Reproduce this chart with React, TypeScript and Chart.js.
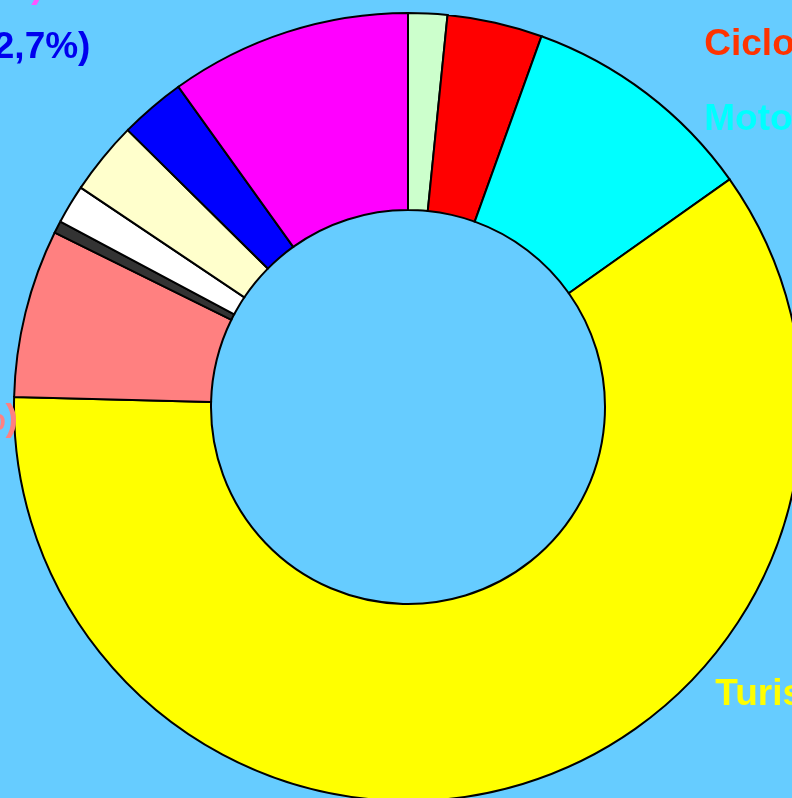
import React, { useEffect, useRef } from "react";
import { Chart, registerables } from "chart.js";

Chart.register(...registerables);

const categories = [
  "Otros",
  "Ciclomotores",
  "Motocicletas",
  "Turismos",
  "Furgonetas",
  "Tractores industriales",
  "Remolques",
  "Semirremolques",
  "Autobuses",
  "Camiones",
];
const values = [1.6, 3.9, 9.7, 60.2, 6.9, 0.5, 1.6, 3.0, 2.7, 9.9];
const sliceColors = [
  "#CCFFCC",
  "#FF0000",
  "#00FFFF",
  "#FFFF00",
  "#FF8080",
  "#333333",
  "#FFFFFF",
  "#FFFFCC",
  "#0000FF",
  "#FF00FF",
];
const labelTexts = [
  "Ciclomotores (3,9%)",
  "Motocicletas (9,7%)",
  "Turismos (60,2%)",
  "Furgonetas (7,0%)",
  "Autobuses (2,7%)",
  "Camiones (9,9%)",
];

// label placement relative to doughnut centre, in units of the outer radius
const labelLayout = [
  { fx: 0.752, fy: -0.893, align: "left", color: "#FF3300" },
  { fx: 0.752, fy: -0.703, align: "left", color: "#00FFFF" },
  { fx: 0.78, fy: 0.756, align: "left", color: "#FFFF00" },
  { fx: -0.99, fy: 0.058, align: "right", color: "#FF8080" },
  { fx: -0.806, fy: -0.886, align: "right", color: "#0000EE" },
  { fx: -0.925, fy: -1.04, align: "right", color: "#FF55FF" },
];

const labelPlugin = {
  id: "manualLabels",
  afterDraw(chart: any) {
    const arc = chart.getDatasetMeta(0).data[0];
    if (!arc) return;
    const { x: cx, y: cy, outerRadius: R } = arc.getProps(["x", "y", "outerRadius"], true);
    const ctx = chart.ctx;
    ctx.save();
    ctx.font = "bold 37px 'Liberation Sans', Arial, sans-serif";
    ctx.textBaseline = "alphabetic";
    labelTexts.forEach((t, i) => {
      const L = labelLayout[i];
      ctx.fillStyle = L.color;
      ctx.textAlign = L.align;
      ctx.fillText(t, cx + L.fx * R, cy + L.fy * R);
    });
    ctx.restore();
  },
};

export default function App() {
  const ref = useRef<HTMLCanvasElement | null>(null);

  useEffect(() => {
    document.body.style.margin = "0";
    document.body.style.background = "#66CCFF";
    const canvas = ref.current!;
    const chart = new Chart(canvas, {
      type: "doughnut",
      data: {
        labels: categories,
        datasets: [
          {
            data: values,
            backgroundColor: sliceColors,
            borderColor: "#000000",
            borderWidth: 2,
            borderJoinStyle: "miter",
          },
        ],
      },
      options: {
        responsive: false,
        animation: false,
        radius: 394,
        cutout: "50%",
        layout: { padding: { left: 24, top: 16, right: 0, bottom: 0 } },
        plugins: {
          legend: { display: false },
          tooltip: { enabled: false },
          title: { display: false },
        },
      },
      plugins: [
        {
          id: "bg",
          beforeDraw(c: any) {
            const g = c.ctx;
            g.save();
            g.fillStyle = "#66CCFF";
            g.fillRect(0, 0, c.width, c.height);
            g.restore();
          },
        },
        labelPlugin,
      ],
    } as any);
    return () => chart.destroy();
  }, []);

  return (
    <div style={{ width: 792, height: 798, background: "#66CCFF" }}>
      <canvas ref={ref} width={792} height={798} style={{ display: "block" }} />
    </div>
  );
}
